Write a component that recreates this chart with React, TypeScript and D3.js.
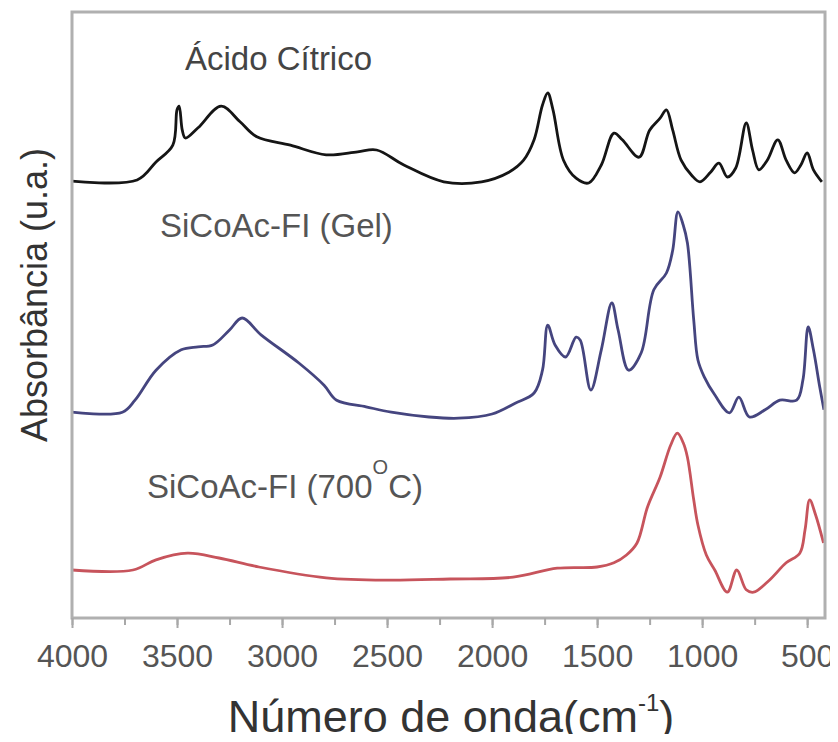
import React, { useEffect, useRef } from "react";
import * as d3 from "d3";

// wavenumber (cm-1) / absorbance (arb. units)
const citricWn = [4000, 3690, 3600, 3520, 3500, 3490, 3475, 3460, 3400, 3290, 3200, 3120, 2960, 2790, 2640, 2550, 2420, 2230, 2050, 1920, 1850, 1800, 1760, 1735, 1710, 1660, 1600, 1540, 1480, 1420, 1380, 1300, 1250, 1200, 1170, 1140, 1100, 1050, 1010, 960, 920, 880, 840, 790, 760, 730, 690, 640, 600, 560, 530, 500, 470, 430];
const citricAbs = [72.8, 73.0, 76.0, 78.8, 84.7, 85.3, 81.3, 80.0, 81.7, 85.3, 82.7, 80.2, 78.8, 77.2, 77.7, 78.0, 75.5, 72.7, 72.7, 74.3, 76.3, 79.7, 85.5, 87.5, 84.7, 76.3, 73.3, 72.5, 75.5, 80.8, 79.7, 76.8, 81.3, 83.3, 84.7, 81.3, 76.3, 73.8, 72.7, 74.3, 75.8, 73.5, 75.0, 82.5, 78.0, 74.7, 76.3, 79.7, 76.3, 74.2, 75.5, 77.5, 74.7, 72.7];

const gelWn = [4000, 3760, 3700, 3600, 3480, 3400, 3330, 3250, 3190, 3100, 2920, 2800, 2740, 2600, 2480, 2300, 2160, 2000, 1890, 1800, 1760, 1735, 1700, 1650, 1600, 1580, 1530, 1480, 1430, 1400, 1350, 1290, 1230, 1170, 1140, 1115, 1090, 1070, 1040, 1020, 990, 940, 870, 825, 775, 700, 630, 550, 520, 495, 470, 440, 420];
const gelAbs = [34.3, 34.3, 36.3, 41.3, 44.7, 45.2, 45.5, 48.0, 50.0, 47.2, 42.5, 38.8, 36.3, 35.2, 34.3, 33.5, 33.3, 34.0, 35.8, 37.5, 41.3, 48.8, 45.5, 43.5, 46.8, 46.3, 38.0, 44.7, 52.5, 48.0, 41.3, 44.2, 54.7, 57.5, 61.3, 67.7, 65.5, 62.5, 49.7, 43.0, 40.2, 37.2, 34.2, 36.8, 33.5, 34.7, 36.3, 36.3, 39.7, 48.5, 44.7, 38.5, 34.7];

const calcWn = [4000, 3710, 3600, 3450, 3300, 3110, 2790, 2500, 2200, 1900, 1690, 1500, 1420, 1360, 1310, 1260, 1200, 1150, 1118, 1090, 1070, 1040, 1020, 980, 940, 880, 835, 790, 755, 680, 600, 535, 510, 488, 460, 422];
const calcAbs = [8.0, 8.0, 9.7, 10.8, 10.0, 8.5, 6.7, 6.3, 6.5, 6.8, 8.3, 8.5, 9.2, 10.5, 12.5, 18.5, 23.5, 28.8, 30.8, 29.2, 26.8, 19.7, 15.5, 10.5, 8.0, 4.3, 8.0, 4.7, 4.3, 6.3, 9.2, 10.8, 14.7, 19.7, 17.2, 12.5];

const seriesColors = ["#151515", "#45457f", "#c7545c"];
const xTicks = [4000, 3500, 3000, 2500, 2000, 1500, 1000, 500];

const W = 838;
const H = 742;
const margin = { left: 72, right: 13, top: 12, bottom: 124 };
const font = "Arial, 'Liberation Sans', sans-serif";

const App = () => {
  const ref = useRef<SVGSVGElement>(null);

  useEffect(() => {
    const svg = d3.select(ref.current);
    svg.selectAll("*").remove();

    const x = d3.scaleLinear().domain([4000, 415]).range([margin.left, W - margin.right]);
    const y = d3.scaleLinear().domain([0, 101]).range([H - margin.bottom, margin.top]);

    const series = [
      { wn: citricWn, abs: citricAbs },
      { wn: gelWn, abs: gelAbs },
      { wn: calcWn, abs: calcAbs },
    ];

    const line = d3.line<[number, number]>()
      .x(d => x(d[0]))
      .y(d => y(d[1]))
      .curve(d3.curveCatmullRom.alpha(0.5));

    svg.append("g")
      .attr("fill", "none")
      .attr("stroke-width", 2.8)
      .attr("stroke-linejoin", "round")
      .selectAll("path")
      .data(series)
      .join("path")
      .attr("stroke", (_, i) => seriesColors[i])
      .attr("d", s => line(s.wn.map((w, i) => [w, s.abs[i]] as [number, number])));

    // frame
    svg.append("rect")
      .attr("x", margin.left)
      .attr("y", margin.top)
      .attr("width", W - margin.left - margin.right)
      .attr("height", H - margin.top - margin.bottom)
      .attr("fill", "none")
      .attr("stroke", "#b0b0b0")
      .attr("stroke-width", 3);

    // bottom axis
    const minor = d3.range(4000, 414, -250);
    const axis = svg.append("g")
      .attr("transform", `translate(0,${H - margin.bottom})`)
      .call(d3.axisBottom(x).tickValues(minor).tickSize(7).tickFormat(() => ""));
    axis.select(".domain").remove();
    axis.selectAll("line").attr("stroke", "#a8a8a8").attr("stroke-width", 2);

    const labels = svg.append("g")
      .attr("transform", `translate(0,${H - margin.bottom})`)
      .call(d3.axisBottom(x).tickValues(xTicks).tickSize(10).tickPadding(16).tickFormat(d3.format("d")));
    labels.select(".domain").remove();
    labels.selectAll("line").attr("stroke", "#a8a8a8").attr("stroke-width", 2);
    labels.selectAll("text")
      .attr("font-family", font)
      .attr("font-size", 32)
      .attr("fill", "#555");

    // axis titles
    const xt = svg.append("text")
      .attr("x", 451)
      .attr("y", 732)
      .attr("text-anchor", "middle")
      .attr("font-family", font)
      .attr("font-size", 45)
      .attr("fill", "#333");
    xt.append("tspan").text("Número de onda(cm");
    xt.append("tspan").attr("font-size", 24).attr("dy", -21).text("-1");
    xt.append("tspan").attr("dy", 21).text(")");

    svg.append("text")
      .attr("transform", "translate(47,295) rotate(-90)")
      .attr("text-anchor", "middle")
      .attr("font-family", font)
      .attr("font-size", 36)
      .attr("fill", "#333")
      .text("Absorbância (u.a.)");

    // series labels
    const lbl = svg.append("g")
      .attr("font-family", font)
      .attr("font-size", 33)
      .attr("fill", "#555");
    lbl.append("text").attr("x", 185).attr("y", 70).attr("fill", "#444").text("Ácido Cítrico");
    lbl.append("text").attr("x", 160).attr("y", 237).text("SiCoAc-FI (Gel)");
    const t3 = lbl.append("text").attr("x", 147).attr("y", 498);
    t3.append("tspan").text("SiCoAc-FI (700");
    t3.append("tspan").attr("font-size", 20).attr("dy", -24).text("O");
    t3.append("tspan").attr("dy", 24).text("C)");
  }, []);

  return <svg ref={ref} width={W} height={H} style={{ display: "block", margin: "-8px" }} />;
};

export default App;
